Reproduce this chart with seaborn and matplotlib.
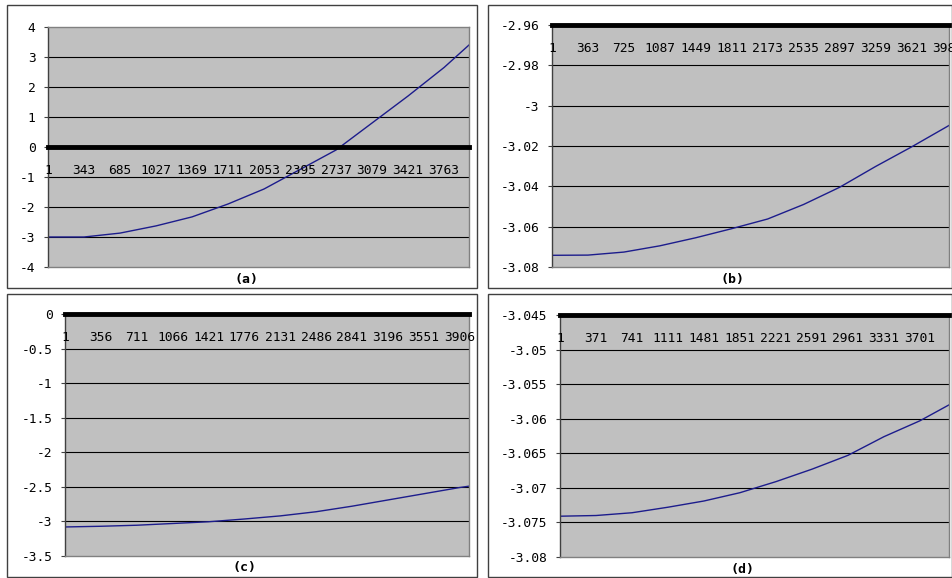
import numpy as np
import pandas as pd
import matplotlib
matplotlib.use("Agg")
import matplotlib.pyplot as plt
import seaborn as sns
from matplotlib.patches import Rectangle

# ---- data (category index -> value) ----
cats_a = [1, 343, 685, 1027, 1369, 1711, 2053, 2395, 2737, 3079, 3421, 3763, 4000]
vals_a = [-3.0, -3.0, -2.87, -2.63, -2.33, -1.9, -1.4, -0.75, -0.1, 0.8, 1.7, 2.65, 3.4]

cats_b = [1, 363, 725, 1087, 1449, 1811, 2173, 2535, 2897, 3259, 3621, 3983, 4000]
vals_b = [-3.0742, -3.0741, -3.0726, -3.0695, -3.0655, -3.061, -3.0562, -3.049,
          -3.0405, -3.0302, -3.0205, -3.0103, -3.0098]

cats_c = [1, 356, 711, 1066, 1421, 1776, 2131, 2486, 2841, 3196, 3551, 3906, 4000]
vals_c = [-3.08, -3.07, -3.055, -3.03, -3.005, -2.965, -2.92, -2.86, -2.78, -2.69,
          -2.6, -2.51, -2.49]

cats_d = [1, 371, 741, 1111, 1481, 1851, 2221, 2591, 2961, 3331, 3701, 4000]
vals_d = [-3.0741, -3.074, -3.0736, -3.0728, -3.0719, -3.0707, -3.0691, -3.0673,
          -3.0653, -3.0626, -3.0603, -3.058]

yticks_a = [-4, -3, -2, -1, 0, 1, 2, 3, 4]
yticks_b = [-3.08, -3.06, -3.04, -3.02, -3.0, -2.98, -2.96]
yticks_c = [-3.5, -3.0, -2.5, -2.0, -1.5, -1.0, -0.5, 0.0]
yticks_d = [-3.08, -3.075, -3.07, -3.065, -3.06, -3.055, -3.05, -3.045]

# category label steps (Excel shows every n-th category)
step_a, step_b, step_c, step_d = 342, 362, 355, 370
n_cats = 4000
panel_names = ["(a)", "(b)", "(c)", "(d)"]

W, H = 953, 578
fig = plt.figure(figsize=(W / 100, H / 100), dpi=100)
fig.patch.set_facecolor("white")

tick_font = {"family": "DejaVu Sans Mono", "size": 9.3}


def px_rect(x0, y0, x1, y1):
    """pixel box (top-left origin) -> figure fraction [l, b, w, h]"""
    return [x0 / W, 1 - y1 / H, (x1 - x0) / W, (y1 - y0) / H]


# outer chart borders
for x0, y0, x1, y1 in [(7, 5, 477, 288), (488, 5, 952, 288),
                       (7, 294, 477, 577), (488, 294, 952, 577)]:
    l, b, w, h = px_rect(x0, y0, x1, y1)
    fig.patches.append(Rectangle((l, b), w, h, transform=fig.transFigure,
                                 fill=False, edgecolor="#404040", lw=1.0))

panels = [
    (px_rect(48, 27, 469, 267), cats_a, vals_a, yticks_a, step_a, 0.0, (247, 279)),
    (px_rect(552, 25, 949, 267), cats_b, vals_b, yticks_b, step_b, -2.96, (733, 279)),
    (px_rect(65, 314, 469, 556), cats_c, vals_c, yticks_c, step_c, 0.0, (245, 567)),
    (px_rect(560, 315, 949, 557), cats_d, vals_d, yticks_d, step_d, -3.045, (743, 569)),
]

for (rect, cats, vals, yticks, step, cross, lab_xy), name in zip(panels, panel_names):
    ax = fig.add_axes(rect)
    ax.set_facecolor("#c0c0c0")
    df = pd.DataFrame({"cat": cats, "val": vals})
    sns.lineplot(data=df, x="cat", y="val", ax=ax, color="#1c1c8c", lw=1.0)
    ax.set_xlim(1, n_cats)
    ax.set_ylim(yticks[0], yticks[-1])

    # horizontal gridlines
    for t in yticks[1:-1]:
        if t != cross:
            ax.axhline(t, color="black", lw=0.8, zorder=1)
    # the category axis line (thick)
    ax.axhline(cross, color="black", lw=3.5, zorder=3, clip_on=False)

    ax.set_yticks(yticks)
    ax.set_yticklabels([f"{t:g}" for t in yticks], fontdict=tick_font, color="black")
    ax.set_xticks([])
    ax.set_xlabel("")
    ax.set_ylabel("")
    ax.tick_params(axis="y", length=3, pad=6, color="#404040")

    # category labels under the axis line
    for c in range(1, n_cats + 1, step):
        ax.annotate(str(c), xy=(c, cross), xytext=(0, -17), textcoords="offset points",
                    ha="center", va="center", fontfamily="DejaVu Sans Mono",
                    fontsize=9.3, color="black", annotation_clip=False)

    for side in ["top", "right", "bottom"]:
        ax.spines[side].set_color("#808080")
        ax.spines[side].set_linewidth(1.0)
    ax.spines["left"].set_color("#404040")
    ax.spines["left"].set_linewidth(1.0)

    fig.text(lab_xy[0] / W, 1 - lab_xy[1] / H, name, ha="center", va="center",
             fontfamily="DejaVu Sans Mono", fontweight="bold", fontsize=9.5)

fig.savefig("out.png", dpi=100)
